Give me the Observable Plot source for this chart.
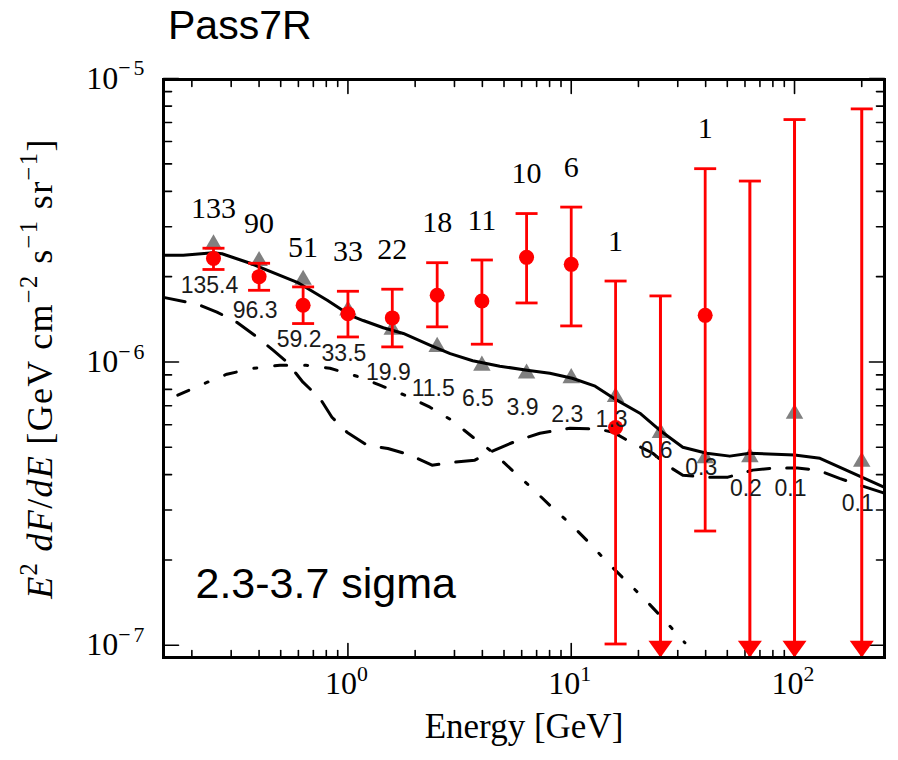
<!DOCTYPE html>
<html><head><meta charset="utf-8">
<script src="https://cdn.jsdelivr.net/npm/d3@7"></script>
<script src="https://cdn.jsdelivr.net/npm/@observablehq/plot@0.6"></script>
<style>
body{margin:0;background:#fff;}
#title{height:50px;line-height:50px;font-family:"Liberation Sans",Arial,sans-serif;font-size:41px;padding-left:168px;color:#000;}
#chart svg{display:block;}
</style></head><body>
<div id="title">Pass7R</div>
<div id="chart"></div>
<script>
// ---- data ----
const energies   = [0.25, 0.40, 0.63, 1.0, 1.58, 2.51, 3.98, 6.31, 10.0, 15.8, 25.1, 39.8, 63.1, 100, 200];
const fluxPoint  = [2.32e-6, 2.00e-6, 1.585e-6, 1.48e-6, 1.43e-6, 1.72e-6, 1.64e-6, 2.34e-6, 2.21e-6, 5.87e-7, null, 1.46e-6, null, null, null];
const fluxHigh   = [2.52e-6, 2.23e-6, 1.84e-6, 1.776e-6, 1.806e-6, 2.24e-6, 2.29e-6, 3.34e-6, 3.52e-6, 1.93e-6, 1.71e-6, 4.81e-6, 4.35e-6, 7.17e-6, 7.82e-6];
const fluxLow    = [2.12e-6, 1.79e-6, 1.366e-6, 1.225e-6, 1.13e-6, 1.33e-6, 1.155e-6, 1.615e-6, 1.34e-6, 1.01e-7, null, 2.53e-7, null, null, null];
const counts     = ["133", "90", "51", "33", "22", "18", "11", "10", "6", "1", null, "1", null, null, null];
const modelFlux  = [2.60e-6, 2.27e-6, 1.95e-6, 1.52e-6, 1.30e-6, 1.13e-6, 0.97e-6, 0.91e-6, 0.877e-6, 0.752e-6, 0.562e-6, 0.457e-6, 0.461e-6, 0.656e-6, 0.444e-6];
const predicted  = ["135.4", "96.3", "59.2", "33.5", "19.9", "11.5", "6.5", "3.9", "2.3", "1.3", "0.6", "0.3", "0.2", "0.1", "0.1"];
const predLevel  = [1.866e-6, 1.522e-6, 1.203e-6, 1.073e-6, 0.920e-6, 0.808e-6, 0.745e-6, 0.692e-6, 0.654e-6, 0.628e-6, 0.488e-6, 0.425e-6, 0.358e-6, 0.358e-6, 0.317e-6];

const totalE = [0.1493, 0.183, 0.249, 0.273, 0.365, 0.593, 0.808, 1.024, 1.17, 1.44, 1.77, 2.34, 2.87, 3.62, 4.79, 6.34, 8.02, 10.1, 12.8, 16.0, 20.3, 24.9, 31.6, 40.4, 51.3, 63.0, 100, 130, 159, 253];
const totalF = [2.38e-6, 2.38e-6, 2.43e-6, 2.41e-6, 2.23e-6, 1.91e-6, 1.65e-6, 1.46e-6, 1.40e-6, 1.32e-6, 1.26e-6, 1.145e-6, 1.07e-6, 1.01e-6, 0.966e-6, 0.935e-6, 0.912e-6, 0.876e-6, 0.821e-6, 0.733e-6, 0.659e-6, 0.574e-6, 0.500e-6, 0.476e-6, 0.465e-6, 0.476e-6, 0.469e-6, 0.457e-6, 0.425e-6, 0.361e-6];

const dashE = [0.1493, 0.211, 0.259, 0.318, 0.383, 0.462, 0.533, 0.629, 0.749, 0.848, 0.99, 1.22, 1.51, 1.90, 2.38, 2.95, 3.70, 4.32, 5.77, 7.24, 9.87, 13.2, 15.4, 17.8, 23.2, 26.8, 31.6, 40.4, 50.3, 65.0, 80.2, 103, 127, 159, 196, 253];
const dashF = [1.69e-6, 1.60e-6, 1.50e-6, 1.38e-6, 1.24e-6, 1.10e-6, 1.00e-6, 0.848e-6, 0.744e-6, 0.638e-6, 0.565e-6, 0.508e-6, 0.495e-6, 0.469e-6, 0.432e-6, 0.442e-6, 0.450e-6, 0.480e-6, 0.529e-6, 0.560e-6, 0.583e-6, 0.579e-6, 0.565e-6, 0.529e-6, 0.476e-6, 0.432e-6, 0.398e-6, 0.392e-6, 0.392e-6, 0.415e-6, 0.422e-6, 0.422e-6, 0.415e-6, 0.388e-6, 0.367e-6, 0.344e-6];

const dotE = [0.173, 0.229, 0.287, 0.379, 0.496, 0.648, 0.831, 1.097, 1.39, 1.80, 2.33, 2.92, 3.63, 4.51, 5.43, 6.73, 8.19, 10.07, 12.1, 14.6, 17.7, 21.4, 25.8, 32.3];
const dotF = [0.763e-6, 0.841e-6, 0.905e-6, 0.950e-6, 0.974e-6, 0.974e-6, 0.950e-6, 0.890e-6, 0.828e-6, 0.763e-6, 0.692e-6, 0.622e-6, 0.542e-6, 0.476e-6, 0.415e-6, 0.356e-6, 0.307e-6, 0.265e-6, 0.229e-6, 0.195e-6, 0.168e-6, 0.145e-6, 0.124e-6, 0.102e-6];

const xMajorTicks = [1, 10, 100];
const xMinorTicks = [0.2, 0.3, 0.4, 0.5, 0.6, 0.7, 0.8, 0.9, 2, 3, 4, 5, 6, 7, 8, 9, 20, 30, 40, 50, 60, 70, 80, 90, 200];
const yMajorTicks = [1e-7, 1e-6, 1e-5];
const yMinorTicks = [2e-7, 3e-7, 4e-7, 5e-7, 6e-7, 7e-7, 8e-7, 9e-7, 2e-6, 3e-6, 4e-6, 5e-6, 6e-6, 7e-6, 8e-6, 9e-6];

const xDomain = [0.1493, 252.9];
const yDomain = [9.05e-8, 9.93e-6];

const xLabel = "Energy [GeV]";
const yLabel = "$E$^{2} $dF$/$dE$ [GeV cm^{−2} s^{−1} sr^{−1}]";
const annotation = "2.3-3.7 sigma";

// ---- tables ----
const bins = energies.map((e, i) => ({
  e, flux: fluxPoint[i], hi: fluxHigh[i], lo: fluxLow[i], count: counts[i],
  model: modelFlux[i], pred: predicted[i], predLevel: predLevel[i]
}));
const measured = bins.filter(d => d.lo != null);
const limits = bins.filter(d => d.lo == null).map(d => ({...d, floor: yDomain[0]}));
const withPoint = bins.filter(d => d.flux != null);
const withCount = bins.filter(d => d.count != null);
const total = totalE.map((e, i) => ({e, f: totalF[i]}));
const dashed = dashE.map((e, i) => ({e, f: dashF[i]}));
const dashdot = dotE.map((e, i) => ({e, f: dotF[i]}));

const serif = "'Liberation Serif', 'DejaVu Serif', serif";
const sans = "'Liberation Sans', Arial, sans-serif";
const supFmt = d => "10^{" + String(Math.round(Math.log10(d))).replace("-", "−") + "}";

// custom symbols / shapes
const hbar = {draw(ctx, size) { const w = Math.sqrt(size / Math.PI); ctx.moveTo(-w, 0); ctx.lineTo(w, 0); }};
const arrowHead = {draw(ctx, size) { const w = Math.sqrt(size / Math.PI); ctx.moveTo(0, 0); ctx.lineTo(-w, -w * 1.4); ctx.lineTo(w, -w * 1.4); ctx.closePath(); }};
const tickLine = {draw(ctx, l) { ctx.moveTo(0, 0); ctx.lineTo(0, -l); }};

// inward tick marks: vectors anchored on the frame edges
function ticks(values, side, len) {
  const common = {length: len, anchor: "start", shape: tickLine, stroke: "black", strokeWidth: 1.6};
  if (side === "bottom") return Plot.vector(values, {...common, x: d => d, frameAnchor: "bottom", rotate: 0});
  if (side === "top") return Plot.vector(values, {...common, x: d => d, frameAnchor: "top", rotate: 180});
  if (side === "left") return Plot.vector(values, {...common, y: d => d, frameAnchor: "left", rotate: 90});
  return Plot.vector(values, {...common, y: d => d, frameAnchor: "right", rotate: -90});
}

const plot = Plot.plot({
  width: 898,
  height: 710,
  marginTop: 29,
  marginBottom: 103,
  marginLeft: 163,
  marginRight: 14,
  x: {type: "log", domain: xDomain},
  y: {type: "log", domain: yDomain},
  style: {background: "white", overflow: "visible"},
  marks: [
    ticks(xMajorTicks, "bottom", 14), ticks(xMinorTicks, "bottom", 7),
    ticks(xMajorTicks, "top", 14), ticks(xMinorTicks, "top", 7),
    ticks(yMajorTicks, "left", 15), ticks(yMinorTicks, "left", 8),
    ticks(yMajorTicks, "right", 15), ticks(yMinorTicks, "right", 8),
    // tick labels
    Plot.axisX({anchor: "bottom", ticks: xMajorTicks, tickSize: 0, tickPadding: 14, tickFormat: supFmt, fontSize: 32, fontFamily: serif, label: null}),
    Plot.axisY({anchor: "left", ticks: yMajorTicks, tickSize: 0, tickPadding: 16, tickFormat: supFmt, fontSize: 32, fontFamily: serif, label: null}),
    // model triangles
    Plot.dot(bins, {x: "e", y: "model", symbol: "triangle", r: 6.5, fill: "gray", stroke: "none"}),
    // model curves
    Plot.line(total, {x: "e", y: "f", stroke: "black", strokeWidth: 3, clip: true}),
    Plot.line(dashed, {x: "e", y: "f", stroke: "black", strokeWidth: 3, strokeDasharray: "22,17", clip: true}),
    Plot.line(dashdot, {x: "e", y: "f", stroke: "black", strokeWidth: 3, strokeDasharray: "12,18,3,18", clip: true}),
    // error bars
    Plot.ruleX(measured, {x: "e", y1: "lo", y2: "hi", stroke: "red", strokeWidth: 2.8}),
    Plot.dot(measured, {x: "e", y: "hi", symbol: hbar, r: 11, stroke: "red", strokeWidth: 2.8, fill: "none"}),
    Plot.dot(measured, {x: "e", y: "lo", symbol: hbar, r: 11, stroke: "red", strokeWidth: 2.8, fill: "none"}),
    // upper limits
    Plot.ruleX(limits, {x: "e", y1: "hi", y2: "floor", stroke: "red", strokeWidth: 3}),
    Plot.dot(limits, {x: "e", y: "hi", symbol: hbar, r: 11, stroke: "red", strokeWidth: 2.8, fill: "none"}),
    Plot.dot(limits, {x: "e", frameAnchor: "bottom", symbol: arrowHead, r: 12, fill: "red", stroke: "none"}),
    Plot.dot(withPoint, {x: "e", y: "flux", r: 7.5, fill: "red", stroke: "none"}),
    // annotations
    Plot.text(withCount, {x: "e", y: "hi", text: "count", dy: -40, fontSize: 30, fontFamily: serif, fill: "black"}),
    Plot.text(bins, {x: "e", y: "predLevel", text: "pred", dx: -4, fontSize: 23, fontFamily: sans, fill: "#1a1a1a"}),
    Plot.text([annotation], {text: d => d, frameAnchor: "bottom-left", dx: 32, dy: -60, textAnchor: "start", fontSize: 43, fontFamily: sans, fill: "black"}),
    Plot.text([xLabel], {text: d => d, frameAnchor: "bottom", textAnchor: "middle", dy: 80, fontSize: 35, fontFamily: serif, fill: "black"}),
    Plot.text([yLabel], {text: d => d, frameAnchor: "left", textAnchor: "middle", rotate: -90, dx: -123, fontSize: 36, fontFamily: serif, fill: "black", className: "ylabel"}),
    Plot.frame({stroke: "black", strokeWidth: 3})
  ]
});

document.getElementById("chart").append(plot);

// turn ^{..} into superscripts and $..$ into italics
function richify(svg) {
  svg.querySelectorAll("text").forEach(t => {
    if (t.querySelector("tspan")) return;
    const s = t.textContent;
    if (!/[\^$]/.test(s)) return;
    const isYLabel = !!t.closest(".ylabel");
    const fs = parseFloat(getComputedStyle(t).fontSize);
    const supSpacing = isYLabel ? 1.5 : 3;
    if (isYLabel) t.setAttribute("letter-spacing", "1.3");
    const parts = s.split(/(\^\{[^}]*\}|\$[^$]*\$)/).filter(p => p !== "");
    while (t.firstChild) t.removeChild(t.firstChild);
    let raised = false;
    for (const p of parts) {
      const ts = document.createElementNS("http://www.w3.org/2000/svg", "tspan");
      if (p.startsWith("^{")) {
        ts.textContent = p.slice(2, -1);
        ts.setAttribute("font-size", (fs * 0.68).toFixed(1));
        ts.setAttribute("dy", (-fs * 0.42).toFixed(1));
        ts.setAttribute("letter-spacing", supSpacing);
        raised = true;
      } else {
        let txt = p;
        if (p.startsWith("$")) { txt = p.slice(1, -1); ts.setAttribute("font-style", "italic"); }
        ts.textContent = txt;
        if (raised) { ts.setAttribute("dy", (fs * 0.42).toFixed(1)); raised = false; }
      }
      t.appendChild(ts);
    }
  });
}
richify(plot);
</script>
</body></html>
